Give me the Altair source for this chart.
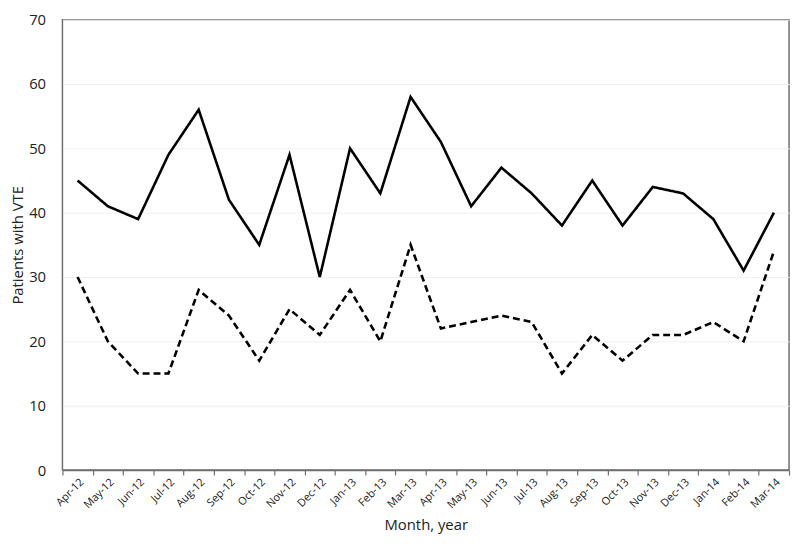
import altair as alt
import pandas as pd

months = ["Apr-12", "May-12", "Jun-12", "Jul-12", "Aug-12", "Sep-12", "Oct-12", "Nov-12",
          "Dec-12", "Jan-13", "Feb-13", "Mar-13", "Apr-13", "May-13", "Jun-13", "Jul-13",
          "Aug-13", "Sep-13", "Oct-13", "Nov-13", "Dec-13", "Jan-14", "Feb-14", "Mar-14"]
solid_values = [45, 41, 39, 49, 56, 42, 35, 49, 30, 50, 43, 58,
                51, 41, 47, 43, 38, 45, 38, 44, 43, 39, 31, 40]
dashed_values = [30, 20, 15, 15, 28, 24, 17, 25, 21, 28, 20, 35,
                 22, 23, 24, 23, 15, 21, 17, 21, 21, 23, 20, 34]

rows = []
for m, s, d in zip(months, solid_values, dashed_values):
    rows.append({"month": m, "value": s, "series": "A"})
    rows.append({"month": m, "value": d, "series": "B"})
df = pd.DataFrame(rows)

FONT = "Open Sans"

x = alt.X("month:N", sort=months, title="Month, year",
          scale=alt.Scale(paddingInner=0, paddingOuter=0),
          axis=alt.Axis(labelAngle=-45, labelAlign="right", labelBaseline="top",
                        labelFontSize=11, labelPadding=1, tickBand="extent",
                        tickSize=5, ticks=True, grid=False, domainColor="#6f6f6f",
                        domainWidth=1.5, tickColor="#6f6f6f", tickWidth=1.2,
                        titleFontSize=15, titlePadding=8,
                        titleFontWeight="normal", labelColor="#222", titleColor="#222",
                        labelFont=FONT, titleFont=FONT))
y = alt.Y("value:Q", title="Patients with VTE",
          scale=alt.Scale(domain=[0, 70], nice=False),
          axis=alt.Axis(values=[0, 10, 20, 30, 40, 50, 60, 70], ticks=False,
                        labelFontSize=15, labelPadding=17, grid=True,
                        gridColor="#f0f0f0", gridWidth=1, domain=False,
                        titleFontSize=15, titlePadding=3, titleFontWeight="normal",
                        labelColor="#222", titleColor="#222",
                        labelFont=FONT, titleFont=FONT))

chart = alt.Chart(df).mark_line(color="black", strokeWidth=2.6).encode(
    x=x, y=y,
    detail="series:N",
    strokeDash=alt.StrokeDash("series:N",
                              scale=alt.Scale(domain=["A", "B"], range=[[1, 0], [7, 4]]),
                              legend=None),
).properties(
    width=734, height=455,
    padding={"left": 55, "top": 9, "right": 3, "bottom": 81},
    autosize=alt.AutoSizeParams(type="none"),
).configure_view(stroke="#6f6f6f", strokeWidth=1.5)

chart.save("out.html", embed_options={"renderer": "svg", "actions": False})
